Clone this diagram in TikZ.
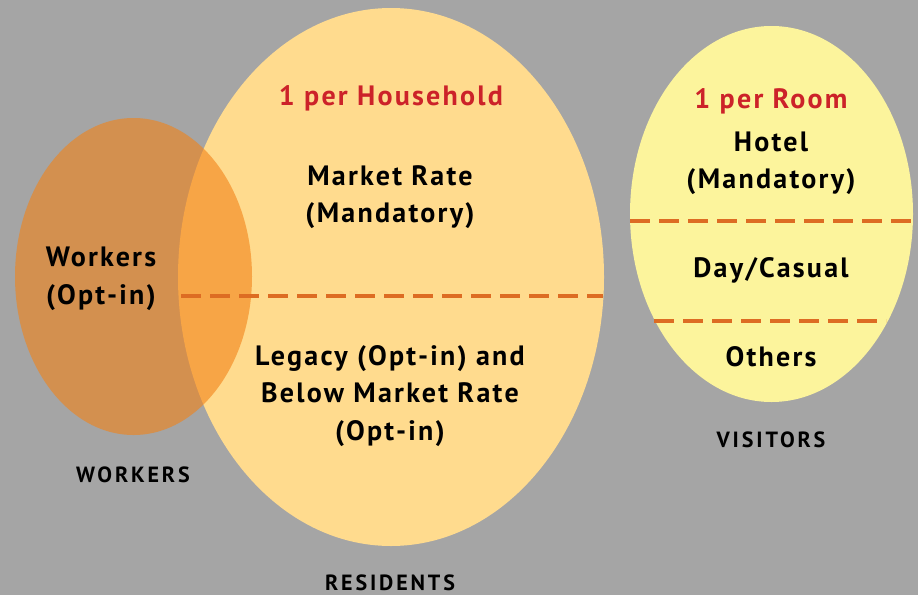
\documentclass[tikz,border=0pt]{standalone}
\usepackage{fontspec}
\setmainfont{PT Sans}
\newfontfamily\mainf{PT Sans}[LetterSpace=8]
\newfontfamily\lblf{PT Sans}[LetterSpace=13]
\usetikzlibrary{shapes.geometric}
\definecolor{bg}{HTML}{A5A5A5}
\definecolor{resfill}{HTML}{FFDB8E}
\definecolor{visfill}{HTML}{FCF49C}
\definecolor{wrkfill}{RGB}{242,130,23}
\definecolor{dashc}{HTML}{DD6C23}
\definecolor{redt}{HTML}{CC2229}
\tikzset{
  blob/.style={ellipse, inner sep=0pt, outer sep=0pt},
  divider/.style={draw=dashc, line width=4.5pt, dash pattern=on 20pt off 9pt},
  bigtxt/.style={font=\mainf\fontsize{28}{37.5}\selectfont\bfseries, align=center, text=black},
  redtxt/.style={font=\mainf\fontsize{28}{37}\selectfont\bfseries, align=center, text=redt},
  lbl/.style={font=\lblf\fontsize{22}{25}\selectfont\bfseries, text=black, inner sep=1pt}
}
\begin{document}
\begin{tikzpicture}[x=1pt,y=-1pt]
\fill[bg] (0,0) rectangle (918,595);
\useasboundingbox (0,0) rectangle (918,595);
% ellipses
\node[blob, fill=resfill, minimum width=426pt, minimum height=538pt] (res) at (391,277) {};
\node[blob, fill=wrkfill, fill opacity=0.6, minimum width=237pt, minimum height=317pt] (wrk) at (133.5,276.5) {};
\node[blob, fill=visfill, minimum width=283pt, minimum height=376pt] (vis) at (771.5,214) {};
% dividers
\coordinate (r1) at (181,296);
\coordinate (r2) at (603,296);
\coordinate (v1) at (630,221);
\coordinate (v2) at (913,221);
\coordinate (v3) at (654,321);
\coordinate (v4) at (886,321);
\draw[divider] (r1) -- (r2);
\draw[divider] (v1) -- (v2);
\draw[divider] (v3) -- (v4);
% residents text
\node[redtxt] (hh) at (391,98) {1 per Household};
\node[bigtxt] (mr) at (390,197) {Market Rate\\(Mandatory)};
\node[bigtxt] (lg) at (390,396) {Legacy (Opt-in) and\\Below Market Rate\\(Opt-in)};
% workers text
\node[bigtxt] (wk) at (101,279) {Workers\\(Opt-in)};
% visitors text
\node[redtxt] (pr) at (771,101) {1 per Room};
\node[bigtxt] (ht) at (771,163.5) {Hotel\\(Mandatory)};
\node[bigtxt] (dc) at (771,270) {Day/Casual};
\node[bigtxt] (ot) at (771,357) {Others};
% labels
\node[lbl] (lw) at (133,475) {WORKERS};
\node[lbl] (lv) at (771,440) {VISITORS};
\node[lbl] (lr) at (390,583) {RESIDENTS};
\end{tikzpicture}
\end{document}
